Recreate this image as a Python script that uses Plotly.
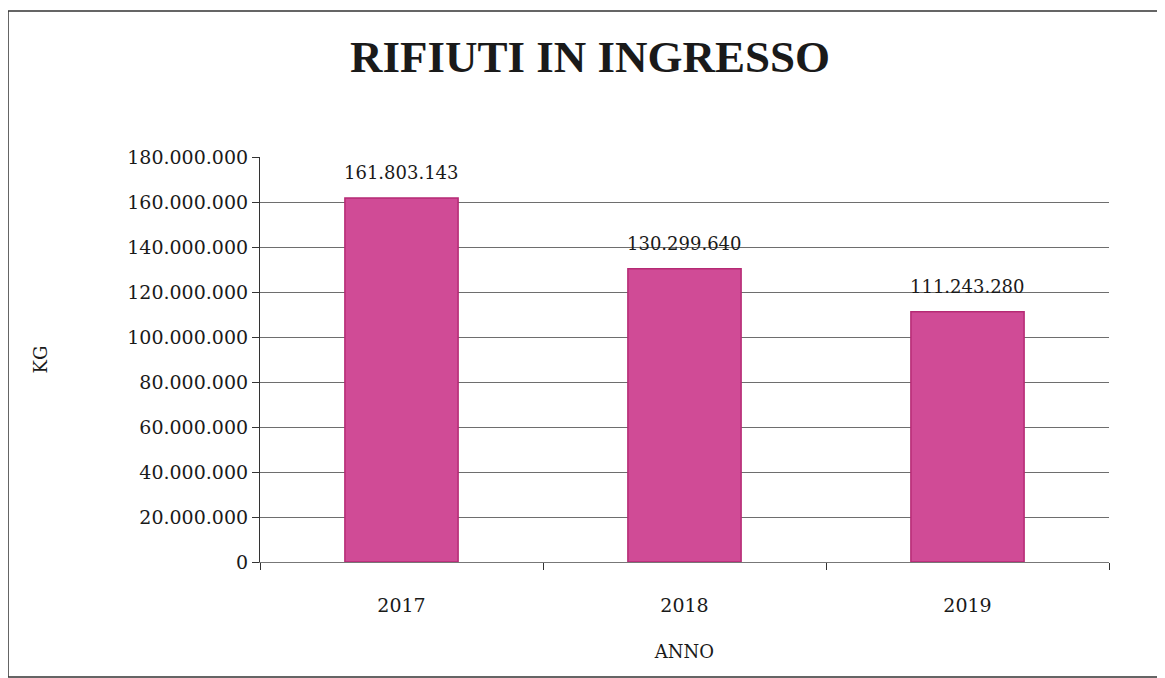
import plotly.graph_objects as go

years = ["2017", "2018", "2019"]
kg = [161803143, 130299640, 111243280]
y_ticks = [0, 20000000, 40000000, 60000000, 80000000, 100000000, 120000000, 140000000, 160000000, 180000000]

title_text = "RIFIUTI IN INGRESSO"
x_title = "ANNO"
y_title = "KG"

def fmt(v):
    return f"{v:,}".replace(",", ".")

FONT = "DejaVu Serif"
W, H = 1157, 670
L, R, T, B = 252, 56, 149, 116
PW, PH = W - L - R, H - T - B

fig = go.Figure()
fig.add_trace(go.Bar(
    x=years, y=kg, width=0.4,
    marker=dict(color="#d04b96", line=dict(color="#b52a74", width=1.5)),
))

for i, v in enumerate(kg):
    fig.add_annotation(x=i, y=v, text=fmt(v), showarrow=False,
                       yanchor="bottom", yshift=13,
                       font=dict(family=FONT, size=18, color="#1a1a1a"))

fig.update_layout(
    width=W, height=H,
    paper_bgcolor="white", plot_bgcolor="white",
    separators=",.",
    showlegend=False,
    margin=dict(l=L, r=R, t=T, b=B),
    title=dict(text=title_text, x=0.503, xanchor="center", y=1 - 48 / H, yanchor="middle",
               font=dict(family="Liberation Serif", size=45, color="#1a1a1a", weight="bold")),
    shapes=[dict(type="rect", xref="paper", yref="paper", x0=(0 - L) / PW, x1=(W + 10 - L) / PW,
                 y0=-(669 - (T + PH)) / PH, y1=(T + PH - 3) / PH,
                 line=dict(color="#333", width=1.5), layer="below")],
)

fig.update_xaxes(
    type="category", range=[-0.5, 2.5],
    showline=True, linecolor="#777", linewidth=1,
    ticks="outside", tickson="boundaries", ticklen=7, tickcolor="#333",
    showgrid=False, tickangle=0, ticklabelstandoff=26,
    tickfont=dict(family=FONT, size=19, color="#1a1a1a"),
    title=dict(text=x_title, font=dict(family=FONT, size=18, color="#1a1a1a"), standoff=30),
)
fig.update_yaxes(
    range=[0, 180000000], tickvals=y_ticks, tickformat=",d",
    showline=True, linecolor="#333", linewidth=1.2,
    ticks="outside", ticklen=7, tickcolor="#333",
    showgrid=True, gridcolor="#6e6e6e", gridwidth=1,
    zeroline=False,
    tickfont=dict(family=FONT, size=19, color="#1a1a1a"),
    title=dict(text=y_title, font=dict(family=FONT, size=18, color="#1a1a1a"), standoff=74),
)

fig.write_html("out.html")
